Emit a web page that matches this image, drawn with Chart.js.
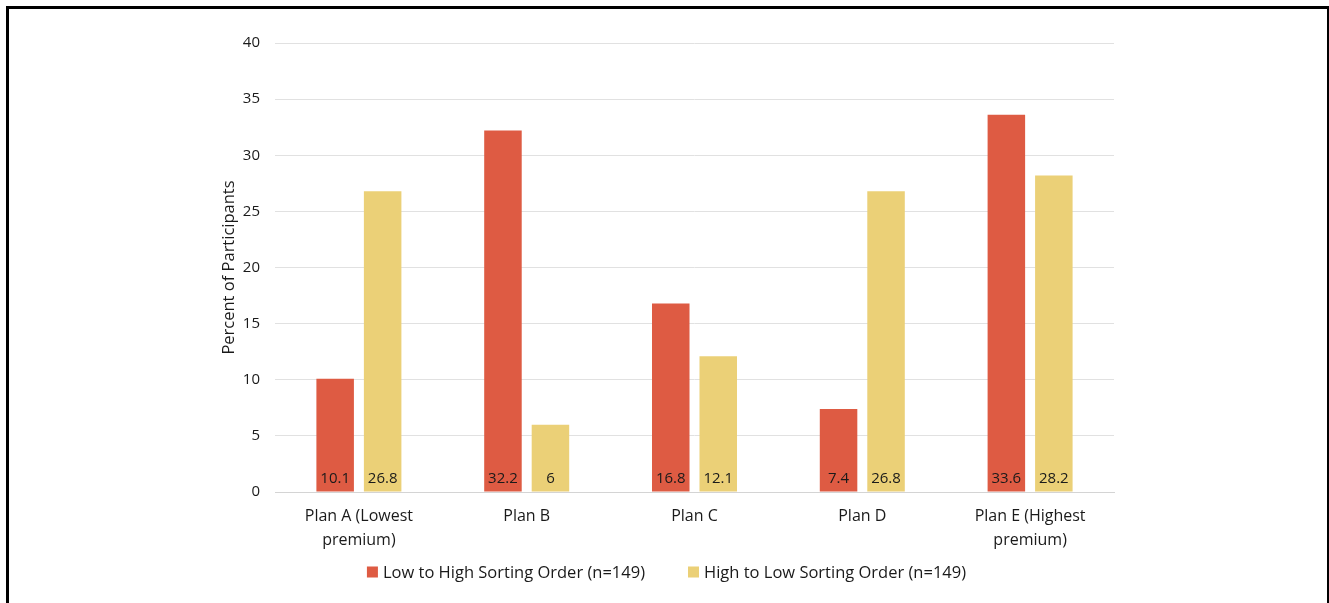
<!DOCTYPE html>
<html>
<head>
<meta charset="utf-8">
<script src="https://cdn.jsdelivr.net/npm/chart.js@4"></script>
<style>
  html, body { margin: 0; padding: 0; background: #fff; overflow: hidden; }
  #frame { position: absolute; left: 6px; top: 6px; width: 1318px; height: 640px; border: 3px solid #000; }
  #wrap { position: absolute; left: 0; top: 0; width: 1329px; height: 603px; }
</style>
</head>
<body>
<div id="frame"></div>
<div id="wrap"><canvas id="plansChart" width="1329" height="603"></canvas></div>
<script>
// Chart data
const planLabels = [['Plan A (Lowest', 'premium)'], 'Plan B', 'Plan C', 'Plan D', ['Plan E (Highest', 'premium)']];
const lowToHigh = [10.1, 32.2, 16.8, 7.4, 33.6];
const highToLow = [26.8, 6, 12.1, 26.8, 28.2];
const seriesNames = ['Low to High Sorting Order (n=149)', 'High to Low Sorting Order (n=149)'];
const yTicks = [0, 5, 10, 15, 20, 25, 30, 35, 40];

const FONT = "'Open Sans', 'Noto Sans', sans-serif";

// Value labels at the base of each bar
const baseLabels = {
    id: 'baseLabels',
    afterDatasetsDraw(chart) {
        const ctx = chart.ctx;
        ctx.save();
        ctx.font = '15px ' + FONT;
        ctx.fillStyle = '#1a1a1a';
        ctx.textAlign = 'center';
        ctx.textBaseline = 'middle';
        chart.data.datasets.forEach((ds, i) => {
            chart.getDatasetMeta(i).data.forEach((bar, j) => {
                ctx.fillText(String(ds.data[j]), bar.x, bar.base - 13);
            });
        });
        ctx.restore();
    }
};

// Bottom legend (Excel style: small square, tight text gap, wide item gap)
const bottomLegend = {
    id: 'bottomLegend',
    afterDraw(chart) {
        const ctx = chart.ctx;
        const box = 11, textGap = 5, itemGap = 43, y = 572;
        ctx.save();
        ctx.font = '16.5px ' + FONT;
        ctx.textBaseline = 'middle';
        ctx.textAlign = 'left';
        const items = chart.data.datasets.map(ds => ({
            text: ds.label, color: ds.backgroundColor, w: ctx.measureText(ds.label).width
        }));
        let total = items.reduce((s, it) => s + box + textGap + it.w, 0) + itemGap * (items.length - 1);
        let x = chart.width / 2 - total / 2 + 2;
        items.forEach(it => {
            ctx.fillStyle = it.color;
            ctx.fillRect(x, y - box / 2, box, box);
            ctx.fillStyle = '#1a1a1a';
            ctx.fillText(it.text, x + box + textGap, y + 1);
            x += box + textGap + it.w + itemGap;
        });
        ctx.restore();
    }
};

function initializePlansChart() {
    const canvas = document.getElementById('plansChart');
    const ctx = canvas.getContext('2d');

    new Chart(ctx, {
        type: 'bar',
        data: {
            labels: planLabels,
            datasets: [{
                label: seriesNames[0],
                data: lowToHigh,
                backgroundColor: '#DE5B43',
                categoryPercentage: 0.566,
                barPercentage: 0.79
            }, {
                label: seriesNames[1],
                data: highToLow,
                backgroundColor: '#EBD077',
                categoryPercentage: 0.566,
                barPercentage: 0.79
            }]
        },
        options: {
            responsive: false,
            animation: false,
            layout: { padding: { left: 219, right: 215, top: 43, bottom: 49 } },
            scales: {
                x: {
                    grid: { display: false, drawTicks: false },
                    border: { color: '#d4d4d4', width: 1 },
                    ticks: {
                        color: '#1a1a1a',
                        font: { family: FONT, size: 16, lineHeight: 1.5 },
                        padding: 12,
                        maxRotation: 0,
                        autoSkip: false
                    },
                    afterFit(scale) { scale.height = 62; }
                },
                y: {
                    min: 0,
                    max: 40,
                    afterBuildTicks(scale) { scale.ticks = yTicks.map(v => ({ value: v })); },
                    grid: { color: '#e1e1e1', drawTicks: false },
                    border: { display: false },
                    ticks: {
                        color: '#1a1a1a',
                        font: { family: FONT, size: 15 },
                        padding: 15
                    },
                    title: {
                        display: true,
                        text: 'Percent of Participants',
                        color: '#1a1a1a',
                        font: { family: FONT, size: 16.5 },
                        padding: { top: 0, bottom: 4 }
                    },
                    afterFit(scale) { scale.width = 56; }
                }
            },
            plugins: {
                legend: { display: false },
                tooltip: { enabled: false }
            }
        },
        plugins: [baseLabels, bottomLegend]
    });
}

initializePlansChart();
</script>
</body>
</html>
